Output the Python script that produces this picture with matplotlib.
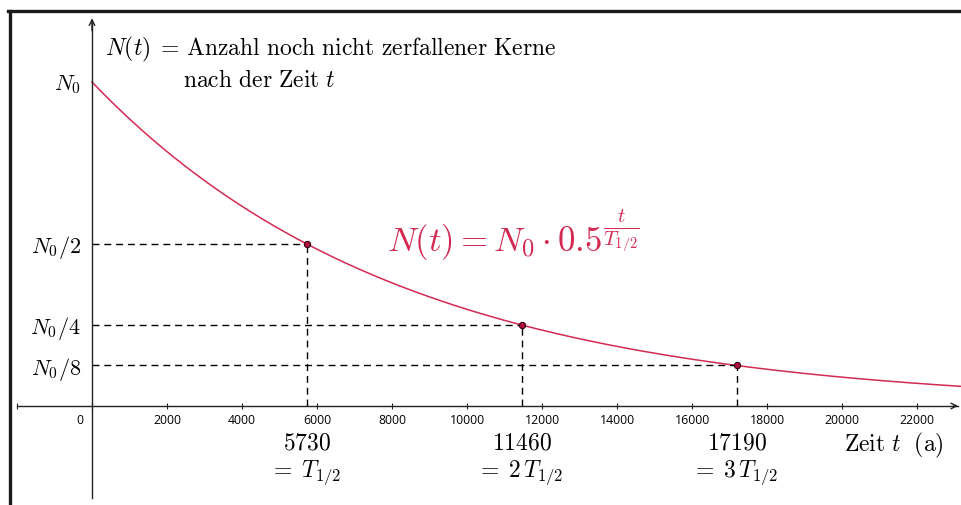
import numpy as np
import matplotlib
matplotlib.use('Agg')
import matplotlib.pyplot as plt
from matplotlib.lines import Line2D

plt.rcParams['mathtext.fontset'] = 'cm'

# Daten
halbwertszeit = 5730
n0 = 1.0
punkte_t = [5730, 11460, 17190]
punkte_n = [0.5, 0.25, 0.125]
y_ticks = [1.0, 0.5, 0.25, 0.125]
y_labels = [r'$N_0$', r'$N_0/2$', r'$N_0/4$', r'$N_0/8$']
x_ticks = [-2000, 0, 2000, 4000, 6000, 8000, 10000, 12000, 14000,
           16000, 18000, 20000, 22000]
unten_oben = ['5730', '11460', '17190']
unten_unten = [r'$=\;T_{1/2}$', r'$=\;2\,T_{1/2}$', r'$=\;3\,T_{1/2}$']

rot = '#d42a52'
achse = '#222222'

fig = plt.figure(figsize=(9.61, 5.05), dpi=100)
ax = fig.add_axes([0, 0, 1, 1])
ax.set_xlim(-2453, 23173)
ax.set_ylim(-0.3056, 1.2531)

# Achsen
for s in ['top', 'right']:
    ax.spines[s].set_visible(False)
ax.spines['bottom'].set_position(('data', 0))
ax.spines['left'].set_position(('data', 0))
ax.spines['bottom'].set_bounds(-2000, 23100)
ax.spines['left'].set_bounds(-0.284, 1.19)
for s in ['bottom', 'left']:
    ax.spines[s].set_linewidth(1.0)
    ax.spines[s].set_color(achse)
ax.annotate('', xy=(23170, 0), xytext=(22900, 0),
            arrowprops=dict(arrowstyle='->', lw=1.0, color=achse))
ax.annotate('', xy=(0, 1.205), xytext=(0, 1.15),
            arrowprops=dict(arrowstyle='->', lw=1.0, color=achse))

ax.set_xticks(x_ticks)
ax.set_xticklabels(['' if v <= 0 else str(v) for v in x_ticks],
                   fontsize=8.8, family='Open Sans')
ax.tick_params(axis='x', direction='inout', length=4, width=0.8, pad=4,
               color=achse)
ax.text(-320, -0.025, '0', fontsize=8.8, family='Open Sans',
        ha='center', va='top')

ax.set_yticks(y_ticks)
ax.set_yticklabels(y_labels, fontsize=16)
ax.tick_params(axis='y', length=0, pad=8)

# Kurve
t = np.linspace(0, 23200, 600)
ax.plot(t, n0 * 0.5 ** (t / halbwertszeit), color=rot, lw=1.1)

# Hilfslinien
for tt, nn in zip(punkte_t, punkte_n):
    ax.plot([0, tt], [nn, nn], ls=(0, (5, 3.5)), color='black', lw=1.0)
    ax.plot([tt, tt], [0, nn], ls=(0, (5, 3.5)), color='black', lw=1.0)
ax.plot(punkte_t, punkte_n, 'o', ms=4.5, mfc='#b0103a', mec='#300010',
        mew=0.8, zorder=5)

# Texte
ax.text(347, 1.083, r'$N(t)\;=\,\mathrm{Anzahl\ noch\ nicht\ zerfallener\ Kerne}$',
        fontsize=17, va='baseline')
ax.text(2427, 0.984, r'$\mathrm{nach\ der\ Zeit}\ t$', fontsize=17, va='baseline')
formel = ax.text(7867, 0.478, r'$N(t)=N_0\cdot 0.5$',
                 fontsize=25, color=rot, va='baseline')

fig.canvas.draw()
bb = formel.get_window_extent()
bx, by = ax.transData.transform((7867, 0.478))
ex, ey = ax.transData.inverted().transform((bb.x1 + 1, by + 20))
ax.text(ex, ey, r'$\frac{t}{T_{1/2}}$', fontsize=21, color=rot,
        ha='left', va='center')

for tt, a, b in zip(punkte_t, unten_oben, unten_unten):
    ax.text(tt, -0.133, r'$\mathrm{' + a + '}$', fontsize=17,
            ha='center', va='baseline')
    ax.text(tt - 60, -0.219, b, fontsize=17, ha='center', va='baseline')
ax.text(20050, -0.139, r'$\mathrm{Zeit}\ t\ \ \mathrm{(a)}$', fontsize=17,
        va='baseline')

# Rahmen
fig.add_artist(Line2D([0.0099, 0.0099], [0, 0.979], color='#1a1a1a',
                      lw=2.4, transform=fig.transFigure))
fig.add_artist(Line2D([0.0084, 1.0], [0.979, 0.979], color='#1a1a1a',
                      lw=2.4, transform=fig.transFigure))

fig.savefig('out.png', dpi=100)
